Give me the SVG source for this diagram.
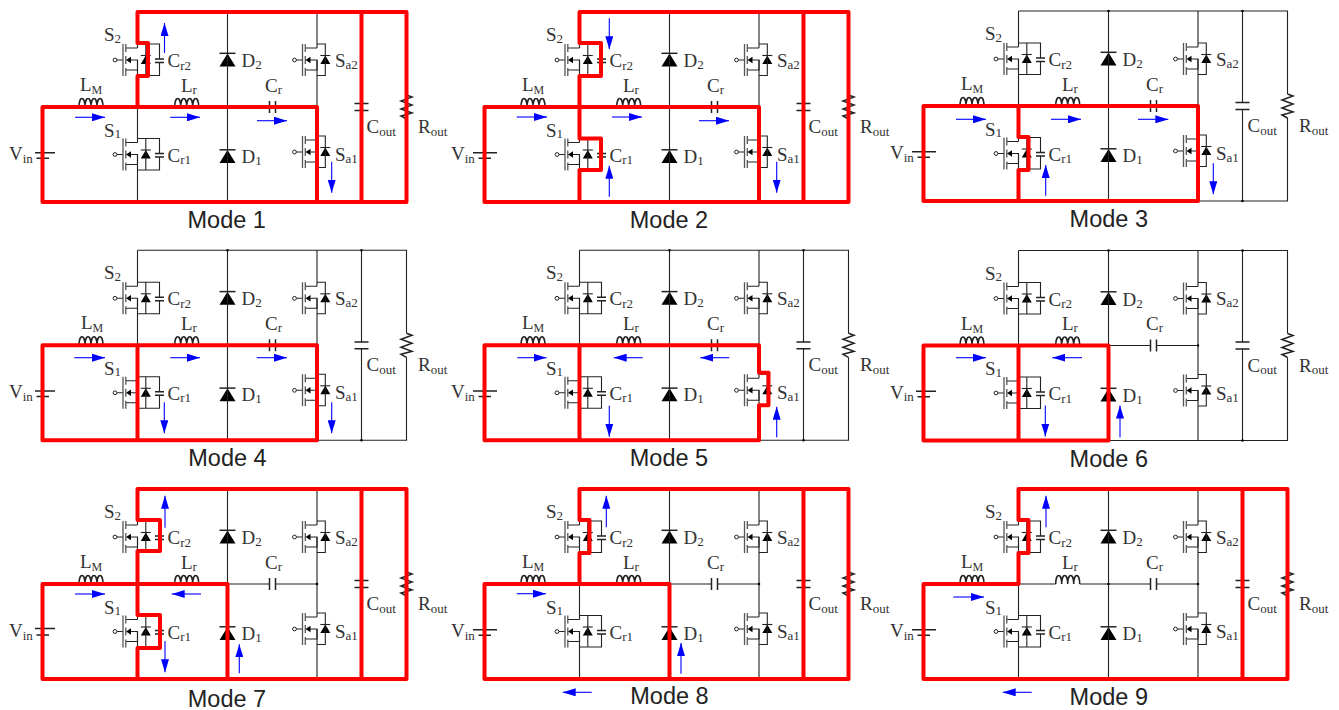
<svg xmlns="http://www.w3.org/2000/svg" width="1339" height="710" viewBox="0 0 1339 710">
<style>
.w{fill:none;stroke:#222;stroke-width:1.1}
.g{fill:none;stroke:#555;stroke-width:1.3}
.k{fill:#000;stroke:none}
.c{fill:none;stroke:#222;stroke-width:1.5}
.red{fill:none;stroke:#f00;stroke-width:4;stroke-linejoin:round;stroke-linecap:round}
.ar{fill:none;stroke:#00f;stroke-width:1.1;marker-end:url(#ah)}
.l{font-family:"Liberation Serif",serif;font-size:19px;fill:#333}
.s{font-size:13px}
.m{font-size:12px}
.t{font-family:"Liberation Sans",sans-serif;font-size:23.5px;fill:#222;text-anchor:middle}
</style>
<defs>
<marker id="ah" viewBox="0 0 13 8" refX="13" refY="4" markerUnits="userSpaceOnUse" markerWidth="13" markerHeight="8" orient="auto"><path d="M0 0L13 4L0 8Z" fill="#00f"/></marker>
<g id="fet">
<circle cx="-22.5" cy="0" r="1.9" fill="#fff" stroke="#222" stroke-width="1"/>
<path class="w" d="M-20.5 0H-14.5M-11.7 -12H0M-11.7 10H0V0H-7"/>
<path class="g" d="M-14.5 -16V16M-11.7 -16V-8M-11.7 -4V4M-11.7 8V16"/>
<path class="k" d="M-11.5 0L-6.5 -3.2V3.2Z"/>
<path class="k" d="M8.3 -4.5L13.3 4H3.3Z"/>
<path class="w" d="M3.3 -4.5H13.3"/>
</g>
<g id="sc"><use href="#fet"/><path class="w" d="M0 -16H22V-1M22 2.5V15.5H0M8.3 -16V15.5"/><path class="c" d="M17.5 -1H26.5M17.5 2.5H26.5"/></g>
<g id="sa"><use href="#fet"/><path class="w" d="M0 -16H8.3V15.5H0"/></g>
<g id="di"><path class="k" d="M0 0L8 13H-8Z"/><path class="c" d="M-8 -0.2H8"/></g>
<path id="coil" class="c" d="M0 0a3 8.5 0 0 1 6 0a3 8.5 0 0 1 6 0a3 8.5 0 0 1 6 0a3 8.5 0 0 1 6 0"/>
<path id="capr" class="c" d="M-3 -6V6M3 -6V6"/>
<path id="capo" class="c" d="M-7 -3.4H7M-7 3.4H7"/>
<path id="res" class="c" d="M0 0L5.5 2L-5.5 6L5.5 10L-5.5 14L5.5 18L-5.5 21L0 24"/>
<g id="wires">
<path class="w" d="M42.5 107H79M103 107H174.7M198.7 107H269.5M275.5 107H317M137.5 12H406.5V95M406.5 119V202H42.5V107M137.5 12V48M137.5 60V142.5M137.5 154.5V202M227.5 12V202M317 12V48M317 60V140M317 152V202M361.5 12V103.6M361.5 110.4V202"/>
<path class="k" d="M226.2 12a1.3 1.3 0 1 0 2.6 0a1.3 1.3 0 1 0 -2.6 0M360.2 12a1.3 1.3 0 1 0 2.6 0a1.3 1.3 0 1 0 -2.6 0M360.2 202a1.3 1.3 0 1 0 2.6 0a1.3 1.3 0 1 0 -2.6 0M315.7 107a1.3 1.3 0 1 0 2.6 0a1.3 1.3 0 1 0 -2.6 0M226.2 107a1.3 1.3 0 1 0 2.6 0a1.3 1.3 0 1 0 -2.6 0"/>
</g>
</defs>

<g id="mode1">
<g id="m1-Vin"><path class="c" d="M35 152.7H55M36.5 158.3H49"/><text class="l" x="9" y="160">V<tspan class="s" dy="2.5">in</tspan></text></g>
<g id="m1-LM"><use href="#coil" x="79" y="107"/><text class="l" x="80" y="91">L<tspan class="m" dy="3">M</tspan></text></g>
<g id="m1-S2"><use href="#sc" x="137.5" y="60"/><text class="l" x="104" y="41">S<tspan class="s" dy="1.5">2</tspan></text><text class="l" x="167.5" y="67">C<tspan class="s" dy="2.5">r2</tspan></text></g>
<g id="m1-S1"><use href="#sc" x="137.5" y="154.5"/><text class="l" x="104" y="136.5">S<tspan class="s" dy="1.5">1</tspan></text><text class="l" x="167.5" y="161.5">C<tspan class="s" dy="2.5">r1</tspan></text></g>
<g id="m1-Lr"><use href="#coil" x="174.7" y="107"/><text class="l" x="181" y="91.5">L<tspan class="s" dy="2">r</tspan></text></g>
<g id="m1-D2"><use href="#di" x="227.5" y="53.5"/><text class="l" x="241.5" y="67">D<tspan class="s" dy="2">2</tspan></text></g>
<g id="m1-D1"><use href="#di" x="227.5" y="150"/><text class="l" x="241.5" y="163">D<tspan class="s" dy="2">1</tspan></text></g>
<g id="m1-Cr"><use href="#capr" x="272.5" y="107"/><text class="l" x="265" y="91.5">C<tspan class="s" dy="2">r</tspan></text></g>
<g id="m1-Sa2"><use href="#sa" x="317" y="60"/><text class="l" x="335" y="66.5">S<tspan class="s" dy="2">a2</tspan></text></g>
<g id="m1-Sa1"><use href="#sa" x="317" y="152"/><text class="l" x="335" y="161">S<tspan class="s" dy="2">a1</tspan></text></g>
<g id="m1-Cout"><use href="#capo" x="361.5" y="107"/><text class="l" x="366.5" y="133">C<tspan class="s" dy="2.5">out</tspan></text></g>
<g id="m1-Rout"><use href="#res" x="406.5" y="95"/><text class="l" x="418" y="133">R<tspan class="s" dy="2.5">out</tspan></text></g>
<g id="m1-connectors"><use href="#wires"/>
<path class="red" d="M42.5 107H317V202H42.5ZM137.5 107V76H148V43H137.5V12H406.5V202H317M361.5 12V202"/>
<path class="ar" d="M75 117.3H105"/><path class="ar" d="M170.3 117.3H200"/><path class="ar" d="M257 120.7H287"/><path class="ar" d="M164.5 53V23"/><path class="ar" d="M331.7 161.7V192.7"/></g>
<text class="t" x="226.7" y="227.7">Mode 1</text>
</g>

<g id="mode2" transform="translate(442,0)">
<g id="m2-Vin"><path class="c" d="M31 152.7H55M36.5 158.3H49"/><text class="l" x="9" y="160">V<tspan class="s" dy="2.5">in</tspan></text></g>
<g id="m2-LM"><use href="#coil" x="79" y="107"/><text class="l" x="80" y="91">L<tspan class="m" dy="3">M</tspan></text></g>
<g id="m2-S2"><use href="#sc" x="137.5" y="60"/><text class="l" x="104" y="41">S<tspan class="s" dy="1.5">2</tspan></text><text class="l" x="167.5" y="67">C<tspan class="s" dy="2.5">r2</tspan></text></g>
<g id="m2-S1"><use href="#sc" x="137.5" y="154.5"/><text class="l" x="104" y="136.5">S<tspan class="s" dy="1.5">1</tspan></text><text class="l" x="167.5" y="161.5">C<tspan class="s" dy="2.5">r1</tspan></text></g>
<g id="m2-Lr"><use href="#coil" x="174.7" y="107"/><text class="l" x="181" y="91.5">L<tspan class="s" dy="2">r</tspan></text></g>
<g id="m2-D2"><use href="#di" x="227.5" y="53.5"/><text class="l" x="241.5" y="67">D<tspan class="s" dy="2">2</tspan></text></g>
<g id="m2-D1"><use href="#di" x="227.5" y="150"/><text class="l" x="241.5" y="163">D<tspan class="s" dy="2">1</tspan></text></g>
<g id="m2-Cr"><use href="#capr" x="272.5" y="107"/><text class="l" x="265" y="91.5">C<tspan class="s" dy="2">r</tspan></text></g>
<g id="m2-Sa2"><use href="#sa" x="317" y="60"/><text class="l" x="335" y="66.5">S<tspan class="s" dy="2">a2</tspan></text></g>
<g id="m2-Sa1"><use href="#sa" x="317" y="152"/><text class="l" x="335" y="161">S<tspan class="s" dy="2">a1</tspan></text></g>
<g id="m2-Cout"><use href="#capo" x="361.5" y="107"/><text class="l" x="366.5" y="133">C<tspan class="s" dy="2.5">out</tspan></text></g>
<g id="m2-Rout"><use href="#res" x="406.5" y="95"/><text class="l" x="418" y="133">R<tspan class="s" dy="2.5">out</tspan></text></g>
<g id="m2-connectors"><use href="#wires"/>
<path class="red" d="M42.5 107H317V202H42.5ZM137.5 107V76H159V43H137.5V12H406.5V202H317M361.5 12V202M137.5 107V138.5H159V170H137.5V202"/>
<path class="ar" d="M74.7 117H105"/><path class="ar" d="M170 117H200"/><path class="ar" d="M257 120.7H287"/><path class="ar" d="M167.3 18.3V49.3"/><path class="ar" d="M167.3 196.7V165.7"/><path class="ar" d="M334.7 161.7V192.7"/></g>
<text class="t" x="227" y="227.7">Mode 2</text>
</g>

<g id="mode3" transform="translate(881,-1)">
<g id="m3-Vin"><path class="c" d="M31 152.7H55M36.5 158.3H49"/><text class="l" x="9" y="160">V<tspan class="s" dy="2.5">in</tspan></text></g>
<g id="m3-LM"><use href="#coil" x="79" y="107"/><text class="l" x="80" y="91">L<tspan class="m" dy="3">M</tspan></text></g>
<g id="m3-S2"><use href="#sc" x="137.5" y="60"/><text class="l" x="104" y="41">S<tspan class="s" dy="1.5">2</tspan></text><text class="l" x="167.5" y="67">C<tspan class="s" dy="2.5">r2</tspan></text></g>
<g id="m3-S1"><use href="#sc" x="137.5" y="154.5"/><text class="l" x="104" y="136.5">S<tspan class="s" dy="1.5">1</tspan></text><text class="l" x="167.5" y="161.5">C<tspan class="s" dy="2.5">r1</tspan></text></g>
<g id="m3-Lr"><use href="#coil" x="174.7" y="107"/><text class="l" x="181" y="91.5">L<tspan class="s" dy="2">r</tspan></text></g>
<g id="m3-D2"><use href="#di" x="227.5" y="53.5"/><text class="l" x="241.5" y="67">D<tspan class="s" dy="2">2</tspan></text></g>
<g id="m3-D1"><use href="#di" x="227.5" y="150"/><text class="l" x="241.5" y="163">D<tspan class="s" dy="2">1</tspan></text></g>
<g id="m3-Cr"><use href="#capr" x="272.5" y="107"/><text class="l" x="265" y="91.5">C<tspan class="s" dy="2">r</tspan></text></g>
<g id="m3-Sa2"><use href="#sa" x="317" y="60"/><text class="l" x="335" y="66.5">S<tspan class="s" dy="2">a2</tspan></text></g>
<g id="m3-Sa1"><use href="#sa" x="317" y="152"/><text class="l" x="335" y="161">S<tspan class="s" dy="2">a1</tspan></text></g>
<g id="m3-Cout"><use href="#capo" x="361.5" y="107"/><text class="l" x="366.5" y="133">C<tspan class="s" dy="2.5">out</tspan></text></g>
<g id="m3-Rout"><use href="#res" x="406.5" y="95"/><text class="l" x="418" y="133">R<tspan class="s" dy="2.5">out</tspan></text></g>
<g id="m3-connectors"><use href="#wires"/>
<path class="red" d="M42.5 107H317V202H42.5ZM137.5 107V138H147.5V171H137.5V202"/>
<path class="ar" d="M75 120.3H105"/><path class="ar" d="M170 120.3H200"/><path class="ar" d="M257 120.3H287.3"/><path class="ar" d="M164.7 196.7V166"/><path class="ar" d="M332.3 164.3V195.3"/></g>
<text class="t" x="227.8" y="227.7">Mode 3</text>
</g>

<g id="mode4" transform="translate(0,238.3)">
<g id="m4-Vin"><path class="c" d="M35 152.7H55M36.5 158.3H49"/><text class="l" x="9" y="160">V<tspan class="s" dy="2.5">in</tspan></text></g>
<g id="m4-LM"><use href="#coil" x="79" y="107"/><text class="l" x="81" y="91">L<tspan class="m" dy="3">M</tspan></text></g>
<g id="m4-S2"><use href="#sc" x="137.5" y="60"/><text class="l" x="104" y="41">S<tspan class="s" dy="1.5">2</tspan></text><text class="l" x="167.5" y="67">C<tspan class="s" dy="2.5">r2</tspan></text></g>
<g id="m4-S1"><use href="#sc" x="137.5" y="154.5"/><text class="l" x="104" y="136.5">S<tspan class="s" dy="1.5">1</tspan></text><text class="l" x="167.5" y="161.5">C<tspan class="s" dy="2.5">r1</tspan></text></g>
<g id="m4-Lr"><use href="#coil" x="174.7" y="107"/><text class="l" x="181" y="91.5">L<tspan class="s" dy="2">r</tspan></text></g>
<g id="m4-D2"><use href="#di" x="227.5" y="53.5"/><text class="l" x="241.5" y="67">D<tspan class="s" dy="2">2</tspan></text></g>
<g id="m4-D1"><use href="#di" x="227.5" y="150"/><text class="l" x="241.5" y="163">D<tspan class="s" dy="2">1</tspan></text></g>
<g id="m4-Cr"><use href="#capr" x="272.5" y="107"/><text class="l" x="265" y="91.5">C<tspan class="s" dy="2">r</tspan></text></g>
<g id="m4-Sa2"><use href="#sa" x="317" y="60"/><text class="l" x="335" y="66.5">S<tspan class="s" dy="2">a2</tspan></text></g>
<g id="m4-Sa1"><use href="#sa" x="317" y="152"/><text class="l" x="335" y="161">S<tspan class="s" dy="2">a1</tspan></text></g>
<g id="m4-Cout"><use href="#capo" x="361.5" y="107"/><text class="l" x="366.5" y="133">C<tspan class="s" dy="2.5">out</tspan></text></g>
<g id="m4-Rout"><use href="#res" x="406.5" y="95"/><text class="l" x="418" y="133">R<tspan class="s" dy="2.5">out</tspan></text></g>
<g id="m4-connectors"><use href="#wires"/>
<path class="red" d="M42.5 107H317V202H42.5ZM137.5 107V202"/>
<path class="ar" d="M74.3 119.4H105"/><path class="ar" d="M170.3 119.4H200"/><path class="ar" d="M256.7 119.4H287"/><path class="ar" d="M164.3 164V195"/><path class="ar" d="M331.7 164V195"/></g>
<text class="t" x="227.5" y="227.4">Mode 4</text>
</g>

<g id="mode5" transform="translate(442,238.3)">
<g id="m5-Vin"><path class="c" d="M31 152.7H55M36.5 158.3H49"/><text class="l" x="9" y="160">V<tspan class="s" dy="2.5">in</tspan></text></g>
<g id="m5-LM"><use href="#coil" x="79" y="107"/><text class="l" x="80" y="91">L<tspan class="m" dy="3">M</tspan></text></g>
<g id="m5-S2"><use href="#sc" x="137.5" y="60"/><text class="l" x="104" y="41">S<tspan class="s" dy="1.5">2</tspan></text><text class="l" x="167.5" y="67">C<tspan class="s" dy="2.5">r2</tspan></text></g>
<g id="m5-S1"><use href="#sc" x="137.5" y="154.5"/><text class="l" x="104" y="136.5">S<tspan class="s" dy="1.5">1</tspan></text><text class="l" x="167.5" y="161.5">C<tspan class="s" dy="2.5">r1</tspan></text></g>
<g id="m5-Lr"><use href="#coil" x="174.7" y="107"/><text class="l" x="181" y="91.5">L<tspan class="s" dy="2">r</tspan></text></g>
<g id="m5-D2"><use href="#di" x="227.5" y="53.5"/><text class="l" x="241.5" y="67">D<tspan class="s" dy="2">2</tspan></text></g>
<g id="m5-D1"><use href="#di" x="227.5" y="150"/><text class="l" x="241.5" y="163">D<tspan class="s" dy="2">1</tspan></text></g>
<g id="m5-Cr"><use href="#capr" x="272.5" y="107"/><text class="l" x="265" y="91.5">C<tspan class="s" dy="2">r</tspan></text></g>
<g id="m5-Sa2"><use href="#sa" x="317" y="60"/><text class="l" x="335" y="66.5">S<tspan class="s" dy="2">a2</tspan></text></g>
<g id="m5-Sa1"><use href="#sa" x="317" y="152"/><text class="l" x="335" y="161">S<tspan class="s" dy="2">a1</tspan></text></g>
<g id="m5-Cout"><use href="#capo" x="361.5" y="107"/><text class="l" x="366.5" y="133">C<tspan class="s" dy="2.5">out</tspan></text></g>
<g id="m5-Rout"><use href="#res" x="406.5" y="95"/><text class="l" x="418" y="133">R<tspan class="s" dy="2.5">out</tspan></text></g>
<g id="m5-connectors"><use href="#wires"/>
<path class="red" d="M42.5 107H317V134.5H326.5V167H317V202H42.5ZM137.5 107V202"/>
<path class="ar" d="M75.3 119.4H104.5"/><path class="ar" d="M200.7 119.4H171.7"/><path class="ar" d="M287.3 119.4H258.3"/><path class="ar" d="M167.3 167.4V198.4"/><path class="ar" d="M334.7 199V168.4"/></g>
<text class="t" x="227" y="227.4">Mode 5</text>
</g>

<g id="mode6" transform="translate(881,238.5)">
<g id="m6-Vin"><path class="c" d="M35 152.7H55M36.5 158.3H49"/><text class="l" x="9" y="160">V<tspan class="s" dy="2.5">in</tspan></text></g>
<g id="m6-LM"><use href="#coil" x="79" y="107"/><text class="l" x="80" y="91">L<tspan class="m" dy="3">M</tspan></text></g>
<g id="m6-S2"><use href="#sc" x="137.5" y="60"/><text class="l" x="104" y="41">S<tspan class="s" dy="1.5">2</tspan></text><text class="l" x="167.5" y="67">C<tspan class="s" dy="2.5">r2</tspan></text></g>
<g id="m6-S1"><use href="#sc" x="137.5" y="154.5"/><text class="l" x="104" y="136.5">S<tspan class="s" dy="1.5">1</tspan></text><text class="l" x="167.5" y="161.5">C<tspan class="s" dy="2.5">r1</tspan></text></g>
<g id="m6-Lr"><use href="#coil" x="174.7" y="107"/><text class="l" x="181" y="91.5">L<tspan class="s" dy="2">r</tspan></text></g>
<g id="m6-D2"><use href="#di" x="227.5" y="53.5"/><text class="l" x="241.5" y="67">D<tspan class="s" dy="2">2</tspan></text></g>
<g id="m6-D1"><use href="#di" x="227.5" y="150"/><text class="l" x="241.5" y="163">D<tspan class="s" dy="2">1</tspan></text></g>
<g id="m6-Cr"><use href="#capr" x="272.5" y="107"/><text class="l" x="265" y="91.5">C<tspan class="s" dy="2">r</tspan></text></g>
<g id="m6-Sa2"><use href="#sa" x="317" y="60"/><text class="l" x="335" y="66.5">S<tspan class="s" dy="2">a2</tspan></text></g>
<g id="m6-Sa1"><use href="#sa" x="317" y="152"/><text class="l" x="335" y="161">S<tspan class="s" dy="2">a1</tspan></text></g>
<g id="m6-Cout"><use href="#capo" x="361.5" y="107"/><text class="l" x="366.5" y="133">C<tspan class="s" dy="2.5">out</tspan></text></g>
<g id="m6-Rout"><use href="#res" x="406.5" y="95"/><text class="l" x="418" y="133">R<tspan class="s" dy="2.5">out</tspan></text></g>
<g id="m6-connectors"><use href="#wires"/>
<path class="red" d="M42.5 107H227.5V202H42.5ZM137.5 107V202"/>
<path class="ar" d="M75 119.2H105"/><path class="ar" d="M201 119.2H171.3"/><path class="ar" d="M164.3 167V198"/><path class="ar" d="M239 199V167"/></g>
<text class="t" x="227.8" y="228.2">Mode 6</text>
</g>

<g id="mode7" transform="translate(0,477)">
<g id="m7-Vin"><path class="c" d="M35 151.5H55M36.5 158H49"/><text class="l" x="9" y="160">V<tspan class="s" dy="2.5">in</tspan></text></g>
<g id="m7-LM"><use href="#coil" x="79" y="107"/><text class="l" x="80" y="91">L<tspan class="m" dy="3">M</tspan></text></g>
<g id="m7-S2"><use href="#sc" x="137.5" y="60"/><text class="l" x="104" y="41">S<tspan class="s" dy="1.5">2</tspan></text><text class="l" x="167.5" y="67">C<tspan class="s" dy="2.5">r2</tspan></text></g>
<g id="m7-S1"><use href="#sc" x="137.5" y="154.5"/><text class="l" x="104" y="136.5">S<tspan class="s" dy="1.5">1</tspan></text><text class="l" x="167.5" y="161.5">C<tspan class="s" dy="2.5">r1</tspan></text></g>
<g id="m7-Lr"><use href="#coil" x="174.7" y="107"/><text class="l" x="181" y="91.5">L<tspan class="s" dy="2">r</tspan></text></g>
<g id="m7-D2"><use href="#di" x="227.5" y="53.5"/><text class="l" x="241.5" y="67">D<tspan class="s" dy="2">2</tspan></text></g>
<g id="m7-D1"><use href="#di" x="227.5" y="150"/><text class="l" x="241.5" y="163">D<tspan class="s" dy="2">1</tspan></text></g>
<g id="m7-Cr"><use href="#capr" x="272.5" y="107"/><text class="l" x="265" y="91.5">C<tspan class="s" dy="2">r</tspan></text></g>
<g id="m7-Sa2"><use href="#sa" x="317" y="60"/><text class="l" x="335" y="66.5">S<tspan class="s" dy="2">a2</tspan></text></g>
<g id="m7-Sa1"><use href="#sa" x="317" y="152"/><text class="l" x="335" y="161">S<tspan class="s" dy="2">a1</tspan></text></g>
<g id="m7-Cout"><use href="#capo" x="361.5" y="107"/><text class="l" x="366.5" y="133">C<tspan class="s" dy="2.5">out</tspan></text></g>
<g id="m7-Rout"><use href="#res" x="406.5" y="95"/><text class="l" x="418" y="133">R<tspan class="s" dy="2.5">out</tspan></text></g>
<g id="m7-connectors"><use href="#wires"/>
<path class="red" d="M42.5 107H227.5V202M42.5 107V202H406.5V12H137.5V43H160V74H137.5V138H160V171H137.5V202M361.5 12V202"/>
<path class="ar" d="M75 117H105"/><path class="ar" d="M201 117H171.7"/><path class="ar" d="M165 50.7V18.7"/><path class="ar" d="M165 164V195.3"/><path class="ar" d="M239.3 196.3V167.3"/></g>
<text class="t" x="227" y="229.7">Mode 7</text>
</g>

<g id="mode8" transform="translate(442,477)">
<g id="m8-Vin"><path class="c" d="M31 152.7H55M36.5 158.3H49"/><text class="l" x="9" y="160">V<tspan class="s" dy="2.5">in</tspan></text></g>
<g id="m8-LM"><use href="#coil" x="79" y="107"/><text class="l" x="80" y="91">L<tspan class="m" dy="3">M</tspan></text></g>
<g id="m8-S2"><use href="#sc" x="137.5" y="60"/><text class="l" x="104" y="41">S<tspan class="s" dy="1.5">2</tspan></text><text class="l" x="167.5" y="67">C<tspan class="s" dy="2.5">r2</tspan></text></g>
<g id="m8-S1"><use href="#sc" x="137.5" y="154.5"/><text class="l" x="104" y="136.5">S<tspan class="s" dy="1.5">1</tspan></text><text class="l" x="167.5" y="161.5">C<tspan class="s" dy="2.5">r1</tspan></text></g>
<g id="m8-Lr"><use href="#coil" x="174.7" y="107"/><text class="l" x="181" y="91.5">L<tspan class="s" dy="2">r</tspan></text></g>
<g id="m8-D2"><use href="#di" x="227.5" y="53.5"/><text class="l" x="241.5" y="67">D<tspan class="s" dy="2">2</tspan></text></g>
<g id="m8-D1"><use href="#di" x="227.5" y="150"/><text class="l" x="241.5" y="163">D<tspan class="s" dy="2">1</tspan></text></g>
<g id="m8-Cr"><use href="#capr" x="272.5" y="107"/><text class="l" x="265" y="91.5">C<tspan class="s" dy="2">r</tspan></text></g>
<g id="m8-Sa2"><use href="#sa" x="317" y="60"/><text class="l" x="335" y="66.5">S<tspan class="s" dy="2">a2</tspan></text></g>
<g id="m8-Sa1"><use href="#sa" x="317" y="152"/><text class="l" x="335" y="161">S<tspan class="s" dy="2">a1</tspan></text></g>
<g id="m8-Cout"><use href="#capo" x="361.5" y="107"/><text class="l" x="366.5" y="133">C<tspan class="s" dy="2.5">out</tspan></text></g>
<g id="m8-Rout"><use href="#res" x="406.5" y="95"/><text class="l" x="418" y="133">R<tspan class="s" dy="2.5">out</tspan></text></g>
<g id="m8-connectors"><use href="#wires"/>
<path class="red" d="M42.5 107H227.5V202M42.5 107V202H406.5V12H137.5V43H147.5V76H137.5V107M361.5 12V202"/>
<path class="ar" d="M74.7 116.7H104"/><path class="ar" d="M164.3 50.3V18.7"/><path class="ar" d="M239 196.7V166"/><path class="ar" d="M149.7 215.3H120.7"/></g>
<text class="t" x="227.5" y="226.7">Mode 8</text>
</g>

<g id="mode9" transform="translate(881,477)">
<g id="m9-Vin"><path class="c" d="M31 152.7H55M36.5 158.3H49"/><text class="l" x="9" y="160">V<tspan class="s" dy="2.5">in</tspan></text></g>
<g id="m9-LM"><use href="#coil" x="79" y="107"/><text class="l" x="80" y="91">L<tspan class="m" dy="3">M</tspan></text></g>
<g id="m9-S2"><use href="#sc" x="137.5" y="60"/><text class="l" x="104" y="41">S<tspan class="s" dy="1.5">2</tspan></text><text class="l" x="167.5" y="67">C<tspan class="s" dy="2.5">r2</tspan></text></g>
<g id="m9-S1"><use href="#sc" x="137.5" y="154.5"/><text class="l" x="104" y="136.5">S<tspan class="s" dy="1.5">1</tspan></text><text class="l" x="167.5" y="161.5">C<tspan class="s" dy="2.5">r1</tspan></text></g>
<g id="m9-Lr"><use href="#coil" x="174.7" y="107"/><text class="l" x="181" y="91.5">L<tspan class="s" dy="2">r</tspan></text></g>
<g id="m9-D2"><use href="#di" x="227.5" y="53.5"/><text class="l" x="241.5" y="67">D<tspan class="s" dy="2">2</tspan></text></g>
<g id="m9-D1"><use href="#di" x="227.5" y="150"/><text class="l" x="241.5" y="163">D<tspan class="s" dy="2">1</tspan></text></g>
<g id="m9-Cr"><use href="#capr" x="272.5" y="107"/><text class="l" x="265" y="91.5">C<tspan class="s" dy="2">r</tspan></text></g>
<g id="m9-Sa2"><use href="#sa" x="317" y="60"/><text class="l" x="335" y="66.5">S<tspan class="s" dy="2">a2</tspan></text></g>
<g id="m9-Sa1"><use href="#sa" x="317" y="152"/><text class="l" x="335" y="161">S<tspan class="s" dy="2">a1</tspan></text></g>
<g id="m9-Cout"><use href="#capo" x="361.5" y="107"/><text class="l" x="366.5" y="133">C<tspan class="s" dy="2.5">out</tspan></text></g>
<g id="m9-Rout"><use href="#res" x="406.5" y="95"/><text class="l" x="418" y="133">R<tspan class="s" dy="2.5">out</tspan></text></g>
<g id="m9-connectors"><use href="#wires"/>
<path class="red" d="M42.5 107H137.5V76H147.5V43H137.5V12H406.5V202H42.5ZM361.5 12V202"/>
<path class="ar" d="M72.3 120H103"/><path class="ar" d="M165 50.3V18.7"/><path class="ar" d="M150.7 215.3H121.7"/></g>
<text class="t" x="227.8" y="227.7">Mode 9</text>
</g>
</svg>
